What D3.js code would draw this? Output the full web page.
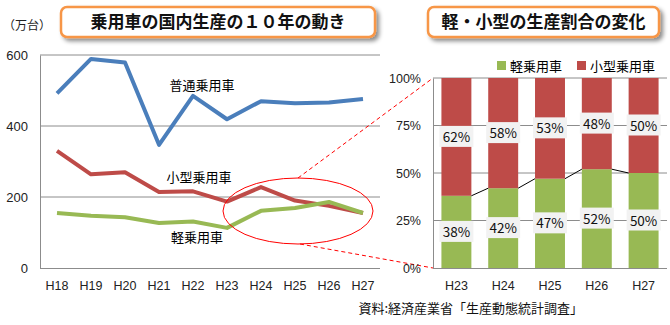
<!DOCTYPE html>
<html><head><meta charset="utf-8">
<script src="https://cdn.jsdelivr.net/npm/d3@7"></script>
<style>body{margin:0;background:#fff;} svg{display:block;font-family:"Noto Sans CJK JP","Noto Sans",sans-serif;}</style>
</head><body>
<svg id="c" width="670" height="325"></svg>
<script>
const years = ["H18","H19","H20","H21","H22","H23","H24","H25","H26","H27"];
const futsu = [492,589,579,347,485,419,470,464,466,476];
const kogata = [330,264,270,214,216,187,228,190,175,155];
const kei = [155,147,143,127,131,113,161,169,186,155];
const yTicks = [0,200,400,600];
const shareYears = ["H23","H24","H25","H26","H27"];
const keiShare = [38,42,47,52,50];
const kogataShare = [62,58,53,48,50];
const pctTicks = [0,25,50,75,100];
const colors = {futsu:"#4A7EBB", kogata:"#BE4B48", kei:"#98B954"};

const svg = d3.select("#c");
const defs = svg.append("defs");
const f = defs.append("filter").attr("id","sh").attr("x","-10%").attr("y","-30%").attr("width","130%").attr("height","180%");
f.append("feDropShadow").attr("dx",3).attr("dy",3).attr("stdDeviation",2).attr("flood-color","#000").attr("flood-opacity",0.45);

// ---- Left chart ----
const x1 = d3.scaleBand().domain(years).range([40,380]);
const y1 = d3.scaleLinear().domain([0,600]).range([268,55]);
const gl = svg.append("g");
gl.selectAll("line.grid").data(yTicks.filter(d=>d>0)).join("line")
  .attr("x1",40).attr("x2",380).attr("y1",d=>y1(d)).attr("y2",d=>y1(d))
  .attr("stroke","#8c8c8c").attr("stroke-width",1);
const ay1 = gl.append("g").attr("transform","translate(40,0)").call(d3.axisLeft(y1).tickValues(yTicks).tickSize(0).tickPadding(12));
ay1.select(".domain").attr("stroke","#8c8c8c");
ay1.selectAll("text").attr("font-size",13).attr("fill","#222");
const ax1 = gl.append("g").attr("transform","translate(0,268)").call(d3.axisBottom(x1).tickSize(0).tickPadding(13));
ax1.select(".domain").attr("stroke","#8c8c8c").attr("d","M40,0.5H380");
ax1.selectAll("text").attr("font-size",12.5).attr("fill","#222");

const line = d3.line().x((d,i)=>x1(years[i])+x1.bandwidth()/2).y(d=>y1(d));
[[futsu,colors.futsu],[kogata,colors.kogata],[kei,colors.kei]].forEach(([s,c])=>{
  gl.append("path").attr("d",line(s)).attr("fill","none").attr("stroke",c).attr("stroke-width",4).attr("stroke-linejoin","round");
});
gl.append("text").attr("x",202).attr("y",90).attr("text-anchor","middle").attr("font-size",13).text("普通乗用車");
gl.append("text").attr("x",199).attr("y",182).attr("text-anchor","middle").attr("font-size",13).text("小型乗用車");
gl.append("text").attr("x",197).attr("y",242).attr("text-anchor","middle").attr("font-size",13).text("軽乗用車");
svg.append("text").attr("x",3).attr("y",30).attr("font-size",12).attr("fill","#222").text("（万台）");

// ellipse & dashed lines
svg.append("ellipse").attr("cx",298).attr("cy",211).attr("rx",75).attr("ry",33).attr("fill","none").attr("stroke","#f00").attr("stroke-width",1);
svg.append("line").attr("x1",298).attr("y1",178).attr("x2",433).attr("y2",78).attr("stroke","#f00").attr("stroke-dasharray","4,3");
svg.append("line").attr("x1",300).attr("y1",244).attr("x2",433).attr("y2",268).attr("stroke","#f00").attr("stroke-dasharray","4,3");

// ---- Right chart ----
const x2 = d3.scaleBand().domain(shareYears).range([433,667]).paddingInner(0.36).paddingOuter(0.18);
const y2 = d3.scaleLinear().domain([0,100]).range([268,78]);
const gr = svg.append("g");
gr.selectAll("line.grid").data(pctTicks.filter(d=>d>0)).join("line")
  .attr("x1",433).attr("x2",667).attr("y1",d=>y2(d)).attr("y2",d=>y2(d))
  .attr("stroke","#8c8c8c").attr("stroke-width",1);
const ay2 = gr.append("g").attr("transform","translate(433,0)").call(d3.axisLeft(y2).tickValues(pctTicks).tickFormat(d=>d+"%").tickSize(0).tickPadding(12));
ay2.select(".domain").attr("stroke","#8c8c8c");
ay2.selectAll("text").attr("font-size",12.5).attr("fill","#222");
const ax2 = gr.append("g").attr("transform","translate(0,268)").call(d3.axisBottom(x2).tickSize(0).tickPadding(13));
ax2.select(".domain").attr("stroke","#8c8c8c").attr("d","M433,0.5H667");
ax2.selectAll("text").attr("font-size",12.5).attr("fill","#222");

const bw = x2.bandwidth();
gr.selectAll("rect.kei").data(shareYears).join("rect")
  .attr("x",d=>x2(d)).attr("width",bw).attr("y",(d,i)=>y2(keiShare[i])).attr("height",(d,i)=>y2(0)-y2(keiShare[i])).attr("fill",colors.kei);
gr.selectAll("rect.kog").data(shareYears).join("rect")
  .attr("x",d=>x2(d)).attr("width",bw).attr("y",(d,i)=>y2(100)).attr("height",(d,i)=>y2(keiShare[i])-y2(100)).attr("fill",colors.kogata);
// series lines
for(let i=0;i<shareYears.length-1;i++){
  gr.append("line").attr("x1",x2(shareYears[i])+bw).attr("y1",y2(keiShare[i]))
    .attr("x2",x2(shareYears[i+1])).attr("y2",y2(keiShare[i+1])).attr("stroke","#000").attr("stroke-width",1);
}
// labels
function lab(cx,cy,t){
  gr.append("rect").attr("x",cx-17).attr("y",cy-11).attr("width",34).attr("height",21).attr("fill","#f2f2f2");
  gr.append("text").attr("x",cx).attr("y",cy+5).attr("text-anchor","middle").attr("font-size",13.5).attr("fill","#111").text(t);
}
shareYears.forEach((d,i)=>{
  const cx = x2(d)+bw/2;
  lab(cx,(y2(0)+y2(keiShare[i]))/2, keiShare[i]+"%");
  lab(cx,(y2(keiShare[i])+y2(100))/2, kogataShare[i]+"%");
});
// legend
const lg = svg.append("g");
lg.append("rect").attr("x",497).attr("y",61).attr("width",9).attr("height",9).attr("fill",colors.kei);
lg.append("text").attr("x",510).attr("y",71).attr("font-size",13).text("軽乗用車");
lg.append("rect").attr("x",577).attr("y",61).attr("width",9).attr("height",9).attr("fill",colors.kogata);
lg.append("text").attr("x",590).attr("y",71).attr("font-size",13).text("小型乗用車");

// titles
function title(x,y,w,h,t){
  svg.append("rect").attr("x",x).attr("y",y).attr("width",w).attr("height",h).attr("rx",6)
    .attr("fill","#fff").attr("stroke","#F79646").attr("stroke-width",2.5).attr("filter","url(#sh)");
  svg.append("text").attr("x",x+w/2).attr("y",y+h/2+6).attr("text-anchor","middle").attr("font-size",17).attr("font-weight","bold").attr("fill","#111").text(t);
}
title(61,7,314,30,"乗用車の国内生産の１０年の動き");
title(428,7,231,30,"軽・小型の生産割合の変化");

svg.append("text").attr("x",583).attr("y",313).attr("text-anchor","end").attr("font-size",13).attr("fill","#111").text("資料:経済産業省「生産動態統計調査」");
</script>
</body></html>
